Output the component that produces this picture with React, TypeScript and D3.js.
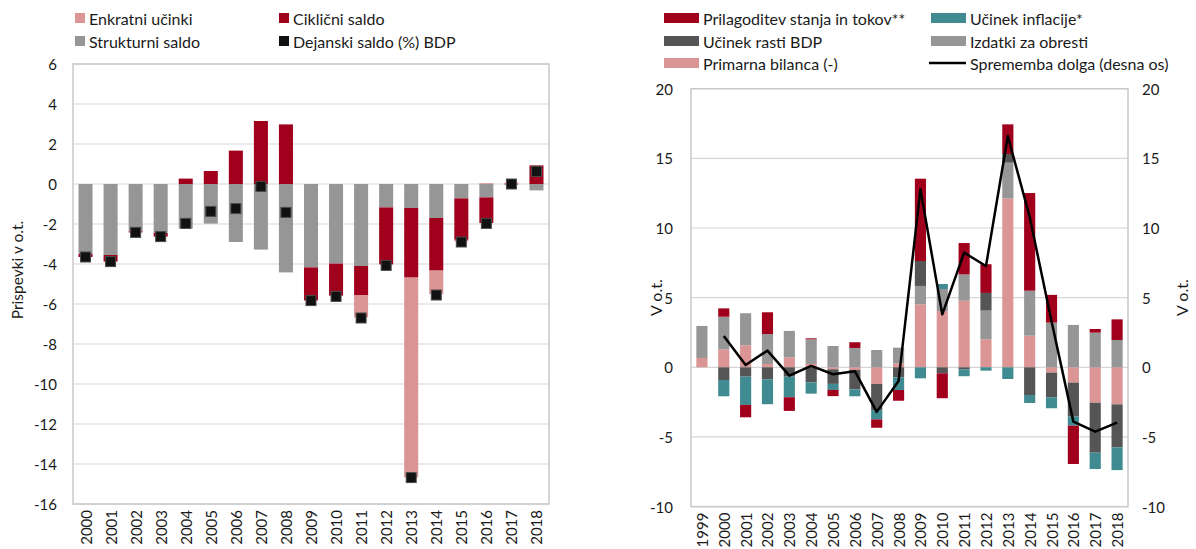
import React from 'react';
import * as d3 from 'd3';

// left panel: structural / cyclical / one-off contributions, 2000-2018
const LEFT_YEARS = ['2000', '2001', '2002', '2003', '2004', '2005', '2006', '2007', '2008', '2009', '2010', '2011', '2012', '2013', '2014', '2015', '2016', '2017', '2018'];
const STRUKTURNI = [-3.5, -3.55, -2.37, -2.45, -2.23, -1.98, -2.9, -3.28, -4.42, -4.17, -3.98, -4.1, -1.17, -1.2, -1.7, -0.72, -0.67, -0.05, -0.32];
const CIKLICNI = [-0.15, -0.33, -0.05, -0.18, 0.27, 0.65, 1.67, 3.15, 2.98, -1.65, -1.6, -1.45, -2.85, -3.48, -2.63, -2.07, -1.28, 0.02, 0.93];
const ENKRATNI = [0, 0, 0, 0, 0, 0, 0, 0, 0, 0, 0, -1.12, 0, -9.99, -1.17, -0.08, 0.04, 0.05, 0];
const DEJANSKI = [-3.65, -3.88, -2.42, -2.63, -1.97, -1.37, -1.23, -0.12, -1.42, -5.83, -5.62, -6.7, -4.07, -14.68, -5.55, -2.9, -1.97, 0.0, 0.63];
const LEFT_TICKS = [6, 4, 2, 0, -2, -4, -6, -8, -10, -12, -14, -16];

// right panel: debt change decomposition, 1999-2018
const RIGHT_YEARS = ['1999', '2000', '2001', '2002', '2003', '2004', '2005', '2006', '2007', '2008', '2009', '2010', '2011', '2012', '2013', '2014', '2015', '2016', '2017', '2018'];
const PRIMARNA = [0.67, 1.29, 1.58, 0.24, 0.72, 0.24, -0.14, -0.19, -1.2, 0.29, 4.52, 4.04, 4.78, 2.01, 12.13, 2.27, -0.38, -1.1, -2.54, -2.66];
const OBRESTI = [2.3, 2.34, 2.3, 2.15, 1.89, 1.77, 1.53, 1.39, 1.24, 1.12, 1.32, 1.58, 1.89, 2.06, 2.56, 3.23, 3.21, 3.04, 2.49, 1.96];
const RAST_BDP = [0, -0.91, -0.67, -0.86, -0.67, -1.08, -1.05, -1.39, -1.87, -0.72, 1.79, -0.43, -0.14, 1.27, 0.62, -1.99, -1.77, -2.44, -3.59, -3.09];
const INFLACIJA = [0, -1.17, -2.03, -1.79, -1.48, -0.81, -0.43, -0.5, -0.67, -0.91, -0.79, 0.36, -0.5, -0.24, -0.84, -0.57, -0.79, -0.65, -1.17, -1.63];
const PRILAGODITEV = [0, 0.6, -0.89, 1.56, -0.98, 0.07, -0.45, 0.41, -0.6, -0.77, 5.91, -1.79, 2.25, 2.06, 2.13, 7.01, 1.99, -2.75, 0.26, 1.48];
const SPREMEMBA = [null, 2.25, 0.17, 1.2, -0.6, 0.1, -0.5, -0.28, -3.2, -0.98, 12.78, 3.8, 8.23, 7.27, 16.6, 10.8, 3.3, -3.9, -4.62, -3.97];
const RIGHT_TICKS = [20, 15, 10, 5, 0, -5, -10];

const C = {
  pink: '#db9594',
  red: '#a0001c',
  gray: '#969696',
  dark: '#555555',
  teal: '#3f8b91',
  grid: '#d6d6d6',
  frame: '#c9c9c9',
  text: '#1a1a1a',
};
const FONT = 'Lato, "Open Sans", sans-serif';

function LeftChart() {
  const x0 = 73, x1 = 549, yTop = 64, yBot = 504;
  const x = d3.scaleBand<string>().domain(LEFT_YEARS).range([x0, x1]).paddingInner(0.44).paddingOuter(0.22);
  const y = d3.scaleLinear().domain([-16, 6]).range([yBot, yTop]);
  const rows = LEFT_YEARS.map((yr, i) => ({ yr, s: STRUKTURNI[i], c: CIKLICNI[i], e: ENKRATNI[i] }));
  const keys = ['s', 'c', 'e'];
  const colors: Record<string, string> = { s: C.gray, c: C.red, e: C.pink };
  const series = d3.stack<any>().keys(keys).offset(d3.stackOffsetDiverging)(rows);

  return (
    <g>
      {LEFT_TICKS.map(t => (
        <g key={t}>
          <line x1={x0} x2={x1} y1={y(t)} y2={y(t)} stroke={C.grid} strokeWidth={1.2} />
          <text x={57} y={y(t)} textAnchor="end" dominantBaseline="central" fontSize={15} fill={C.text}>{t}</text>
        </g>
      ))}
      <rect x={x0} y={yTop} width={x1 - x0} height={yBot - yTop} fill="none" stroke={C.frame} strokeWidth={1.5} />
      {series.map(s => (
        <g key={s.key} fill={colors[s.key]}>
          {s.map((d, i) => (
            <rect key={i} x={x(d.data.yr)} width={x.bandwidth()} y={y(Math.max(d[0], d[1]))} height={Math.abs(y(d[0]) - y(d[1]))} />
          ))}
        </g>
      ))}
      {DEJANSKI.map((v, i) => (
        <rect key={i} x={(x(LEFT_YEARS[i]) as number) + x.bandwidth() / 2 - 5} y={y(v) - 5} width={10} height={10} fill="#111" stroke="#4a4a4a" strokeWidth={1} />
      ))}
      {LEFT_YEARS.map(yr => (
        <text key={yr} transform={`translate(${(x(yr) as number) + x.bandwidth() / 2},${yBot + 6}) rotate(-90)`} textAnchor="end" dominantBaseline="central" fontSize={15} fill={C.text}>{yr}</text>
      ))}
      <text transform={`translate(17,${(yTop + yBot) / 2 - 14}) rotate(-90)`} textAnchor="middle" dominantBaseline="central" fontSize={15.5} fill={C.text}>Prispevki v o.t.</text>
      {/* legend */}
      {[
        { l: 'Enkratni učinki', c: C.pink, x: 75, y: 18 },
        { l: 'Ciklični saldo', c: C.red, x: 279, y: 18 },
        { l: 'Strukturni saldo', c: C.gray, x: 75, y: 41 },
        { l: 'Dejanski saldo (%) BDP', c: '#111', x: 279, y: 41 },
      ].map(d => (
        <g key={d.l}>
          <rect x={d.x} y={d.y - 5} width={10} height={10} fill={d.c} />
          <text x={d.x + 14} y={d.y} dominantBaseline="central" fontSize={16} fill={C.text}>{d.l}</text>
        </g>
      ))}
    </g>
  );
}

function RightChart() {
  const x0 = 691, x1 = 1128, yTop = 88.7, yBot = 506.6;
  const x = d3.scaleBand<string>().domain(RIGHT_YEARS).range([x0, x1]).paddingInner(0.49).paddingOuter(0.245);
  const y = d3.scaleLinear().domain([-10, 20]).range([yBot, yTop]);
  const rows = RIGHT_YEARS.map((yr, i) => ({ yr, p: PRIMARNA[i], o: OBRESTI[i], g: RAST_BDP[i], f: INFLACIJA[i], a: PRILAGODITEV[i] }));
  const keys = ['p', 'o', 'g', 'f', 'a'];
  const colors: Record<string, string> = { p: C.pink, o: C.gray, g: C.dark, f: C.teal, a: C.red };
  const series = d3.stack<any>().keys(keys).offset(d3.stackOffsetDiverging)(rows);
  const cx = (yr: string) => (x(yr) as number) + x.bandwidth() / 2;
  const line = d3.line<number | null>()
    .defined(v => v !== null)
    .x((_, i) => cx(RIGHT_YEARS[i]))
    .y(v => y(v as number));

  return (
    <g>
      {RIGHT_TICKS.map(t => (
        <g key={t}>
          <line x1={x0} x2={x1} y1={y(t)} y2={y(t)} stroke={C.grid} strokeWidth={1.2} />
          <text x={673} y={y(t)} textAnchor="end" dominantBaseline="central" fontSize={15} fill={C.text}>{t}</text>
          <text x={1142} y={y(t)} textAnchor="start" dominantBaseline="central" fontSize={15} fill={C.text}>{t}</text>
        </g>
      ))}
      <rect x={x0} y={yTop} width={x1 - x0} height={yBot - yTop} fill="none" stroke={C.frame} strokeWidth={1.5} />
      {series.map(s => (
        <g key={s.key} fill={colors[s.key]}>
          {s.map((d, i) => (
            <rect key={i} x={x(d.data.yr)} width={x.bandwidth()} y={y(Math.max(d[0], d[1]))} height={Math.abs(y(d[0]) - y(d[1]))} />
          ))}
        </g>
      ))}
      <path d={line(SPREMEMBA) || ''} fill="none" stroke="#000" strokeWidth={2.5} strokeLinejoin="round" />
      {RIGHT_YEARS.map(yr => (
        <text key={yr} transform={`translate(${cx(yr)},${yBot + 6}) rotate(-90)`} textAnchor="end" dominantBaseline="central" fontSize={15} fill={C.text}>{yr}</text>
      ))}
      <text transform={`translate(655,${(yTop + yBot) / 2}) rotate(-90)`} textAnchor="middle" dominantBaseline="central" fontSize={16} fill={C.text}>V o.t.</text>
      <text transform={`translate(1181,${(yTop + yBot) / 2}) rotate(-90)`} textAnchor="middle" dominantBaseline="central" fontSize={16} fill={C.text}>V o.t.</text>
      {/* legend */}
      {[
        { l: 'Prilagoditev stanja in tokov**', c: C.red, x: 664, y: 18 },
        { l: 'Učinek inflacije*', c: C.teal, x: 931, y: 18 },
        { l: 'Učinek rasti BDP', c: C.dark, x: 664, y: 41 },
        { l: 'Izdatki za obresti', c: C.gray, x: 931, y: 41 },
        { l: 'Primarna bilanca (-)', c: C.pink, x: 664, y: 63 },
      ].map(d => (
        <g key={d.l}>
          <rect x={d.x} y={d.y - 5} width={35} height={10} fill={d.c} />
          <text x={d.x + 39} y={d.y} dominantBaseline="central" fontSize={16} fill={C.text}>{d.l}</text>
        </g>
      ))}
      <line x1={929} x2={966} y1={63} y2={63} stroke="#000" strokeWidth={2.5} />
      <text x={970} y={63} dominantBaseline="central" fontSize={16} fill={C.text}>Sprememba dolga (desna os)</text>
    </g>
  );
}

export default function App() {
  return (
    <svg width={1196} height={549} style={{ position: 'absolute', left: 0, top: 0, fontFamily: FONT }}>
      <rect width={1196} height={549} fill="#fff" />
      <LeftChart />
      <RightChart />
    </svg>
  );
}
